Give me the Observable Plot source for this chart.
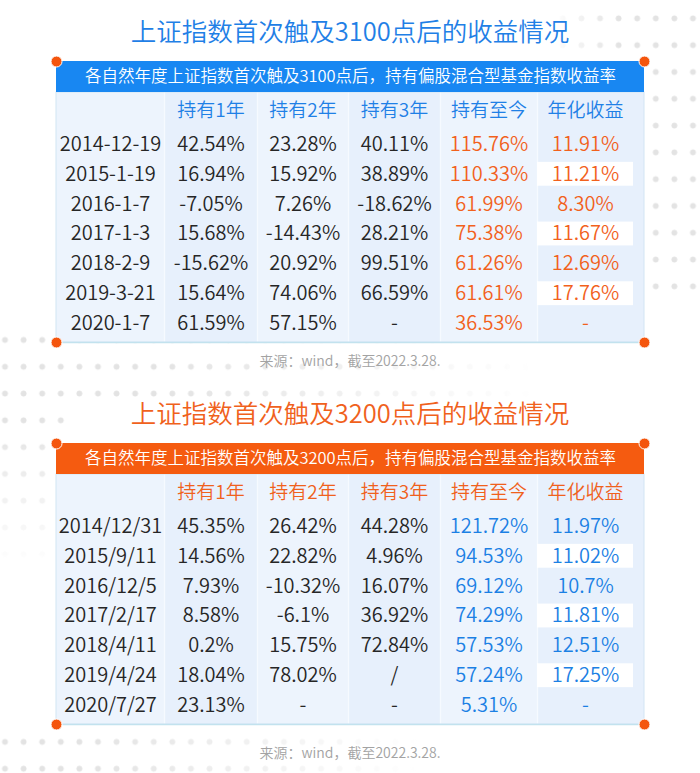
<!DOCTYPE html>
<html>
<head>
<meta charset="utf-8">
<script src="https://cdn.jsdelivr.net/npm/d3@7"></script>
<script src="https://cdn.jsdelivr.net/npm/@observablehq/plot@0.6"></script>
<style>
  html, body { margin: 0; padding: 0; background: #fff; }
  body { width: 700px; height: 773px; position: relative; overflow: hidden;
         font-family: "Noto Sans CJK SC", "Noto Sans", sans-serif; }
  .dots { position: absolute; left: 0; top: 0; width: 700px; height: 773px;
    background-image: radial-gradient(circle, #e3e3e3 2.6px, rgba(255,255,255,0) 3.3px);
    background-size: 18.6px 26.8px; background-position: -4.3px 5px;
    -webkit-mask-image: linear-gradient(to right, rgba(0,0,0,0), #000 45%),
                        linear-gradient(to right, #000 30%, rgba(0,0,0,0)),
                        linear-gradient(to bottom, #000 40%, rgba(0,0,0,0)),
                        linear-gradient(to right, #000 20%, rgba(0,0,0,0));
    -webkit-mask-size: 150px 290px, 540px 70px, 70px 240px, 420px 40px;
    -webkit-mask-position: 550px 10px, 0px 328px, 0px 328px, 0px 736px;
    -webkit-mask-repeat: no-repeat;
  }
  .fig { position: absolute; left: 0; width: 700px; }
  .fig h2 { margin: 0; height: 40px; padding-top: 10px; line-height: 40px; text-align: center;
            font-size: 25.5px; font-weight: 350; letter-spacing: 0px; }
  .fig svg { display: block; }
  .fig svg text { font-weight: 350; }
  .fig .cap { text-align: center; font-size: 14px; color: #a3a3a3; line-height: 20px; font-weight: 350; }
</style>
</head>
<body>
<div class="dots"></div>
<script>
// ---- data ----
const columns = ["持有1年", "持有2年", "持有3年", "持有至今", "年化收益"];

const title3100 = "上证指数首次触及3100点后的收益情况";
const subtitle3100 = "各自然年度上证指数首次触及3100点后，持有偏股混合型基金指数收益率";
const dates3100 = ["2014-12-19", "2015-1-19", "2016-1-7", "2017-1-3", "2018-2-9", "2019-3-21", "2020-1-7"];
const hold1y3100 = ["42.54%", "16.94%", "-7.05%", "15.68%", "-15.62%", "15.64%", "61.59%"];
const hold2y3100 = ["23.28%", "15.92%", "7.26%", "-14.43%", "20.92%", "74.06%", "57.15%"];
const hold3y3100 = ["40.11%", "38.89%", "-18.62%", "28.21%", "99.51%", "66.59%", "-"];
const holdNow3100 = ["115.76%", "110.33%", "61.99%", "75.38%", "61.26%", "61.61%", "36.53%"];
const annual3100 = ["11.91%", "11.21%", "8.30%", "11.67%", "12.69%", "17.76%", "-"];

const title3200 = "上证指数首次触及3200点后的收益情况";
const subtitle3200 = "各自然年度上证指数首次触及3200点后，持有偏股混合型基金指数收益率";
const dates3200 = ["2014/12/31", "2015/9/11", "2016/12/5", "2017/2/17", "2018/4/11", "2019/4/24", "2020/7/27"];
const hold1y3200 = ["45.35%", "14.56%", "7.93%", "8.58%", "0.2%", "18.04%", "23.13%"];
const hold2y3200 = ["26.42%", "22.82%", "-10.32%", "-6.1%", "15.75%", "78.02%", "-"];
const hold3y3200 = ["44.28%", "4.96%", "16.07%", "36.92%", "72.84%", "/", "-"];
const holdNow3200 = ["121.72%", "94.53%", "69.12%", "74.29%", "57.53%", "57.24%", "5.31%"];
const annual3200 = ["11.97%", "11.02%", "10.7%", "11.81%", "12.51%", "17.25%", "-"];

const source = "来源：wind，截至2022.3.28.";

// ---- drawing ----
const FONT = '"Noto Sans CJK SC", "Noto Sans", sans-serif';

function buildTable({title, subtitle, dates, series, accent, barColor, highlight, top, capGap}) {
  const n = dates.length;
  const nCols = columns.length + 1;
  const rows = dates.map((d, i) => ({i, date: d}));
  const cells = rows.flatMap(r => [
    {row: r.i, col: 0, text: r.date, hi: false},
    ...series.map((s, j) => ({row: r.i, col: j + 1, text: s[r.i], hi: j >= 3}))
  ]);
  const colIdx = d3.range(nCols);
  const corners = [[0, 0], [nCols + 1, 0], [0, n + 3], [nCols + 1, n + 3]];

  const svg = Plot.plot({
    width: 700, height: 300, margin: 0,
    style: {fontFamily: FONT, background: "transparent", overflow: "visible"},
    x: {type: "linear", domain: [0, 1, 2, 3, 4, 5, 6, 7], range: [56, 164, 257, 348, 440, 537, 633, 644], axis: null},
    y: {type: "linear", domain: [0, 1, 2, n + 2, n + 3], range: [11, 42, 79, 288, 292], axis: null},
    marks: [
      // table body background by column
      Plot.rect(colIdx, {x1: d => d, x2: d => d === nCols - 1 ? nCols + 1 : d + 1, y1: 1, y2: n + 3,
        fill: d => d % 2 ? "#e7f0fc" : "#edf4fd"}),
      // column dividers
      Plot.ruleX(d3.range(1, nCols), {y1: 1, y2: n + 3, stroke: "#f6faff", strokeWidth: 1.3}),
      // outer border
      Plot.rect([0], {x1: 0, x2: nCols + 1, y1: 1, y2: n + 3, fill: "none", stroke: "#d2e5f4", strokeWidth: 1}),
      Plot.ruleY([n + 3], {x1: 0, x2: nCols + 1, stroke: "#c2e2ee", strokeWidth: 1.6}),
      // white cells in 年化收益 column (alternate rows)
      Plot.rect(rows.filter(r => r.i % 2 === 1), {x1: nCols - 1, x2: nCols, y1: r => r.i + 2, y2: r => r.i + 3,
        insetTop: 3, insetBottom: 3, fill: "white"}),
      // banner
      Plot.rect([subtitle], {x1: 0, x2: nCols + 1, y1: 0, y2: 1, fill: barColor}),
      Plot.text([subtitle], {y: 0.5, text: d => d, fill: "white", fontSize: 16.5, fontFamily: FONT}),
      // column headers
      Plot.text(columns, {x: (d, i) => i + 1.5, y: 1.5, text: d => d, fill: accent, fontSize: 19, fontFamily: FONT}),
      // body cells
      Plot.text(cells, {x: d => d.col + 0.5, y: d => d.row + 2.5, text: "text",
        fill: d => d.hi ? highlight : "#262626", fontSize: 20, fontFamily: FONT}),
      // corner dots
      Plot.dot(corners, {x: d => d[0], y: d => d[1], r: 5.5, fill: "#f4550d", stroke: "white", strokeWidth: 1})
    ]
  });

  const fig = document.createElement("div");
  fig.className = "fig";
  fig.style.top = top + "px";
  const h = document.createElement("h2");
  h.textContent = title;
  h.style.color = accent;
  fig.appendChild(h);
  fig.appendChild(svg);
  const cap = document.createElement("div");
  cap.className = "cap";
  cap.style.marginTop = capGap + "px";
  cap.textContent = source;
  fig.appendChild(cap);
  document.body.appendChild(fig);
}

buildTable({
  title: title3100, subtitle: subtitle3100, dates: dates3100,
  series: [hold1y3100, hold2y3100, hold3y3100, holdNow3100, annual3100],
  accent: "#1f80e6", barColor: "#1887f2", highlight: "#f2611c", top: 0, capGap: 0
});
buildTable({
  title: title3200, subtitle: subtitle3200, dates: dates3200,
  series: [hold1y3200, hold2y3200, hold3y3200, holdNow3200, annual3200],
  accent: "#f0611c", barColor: "#f55b10", highlight: "#1b80e4", top: 382, capGap: 10
});
</script>
</body>
</html>
